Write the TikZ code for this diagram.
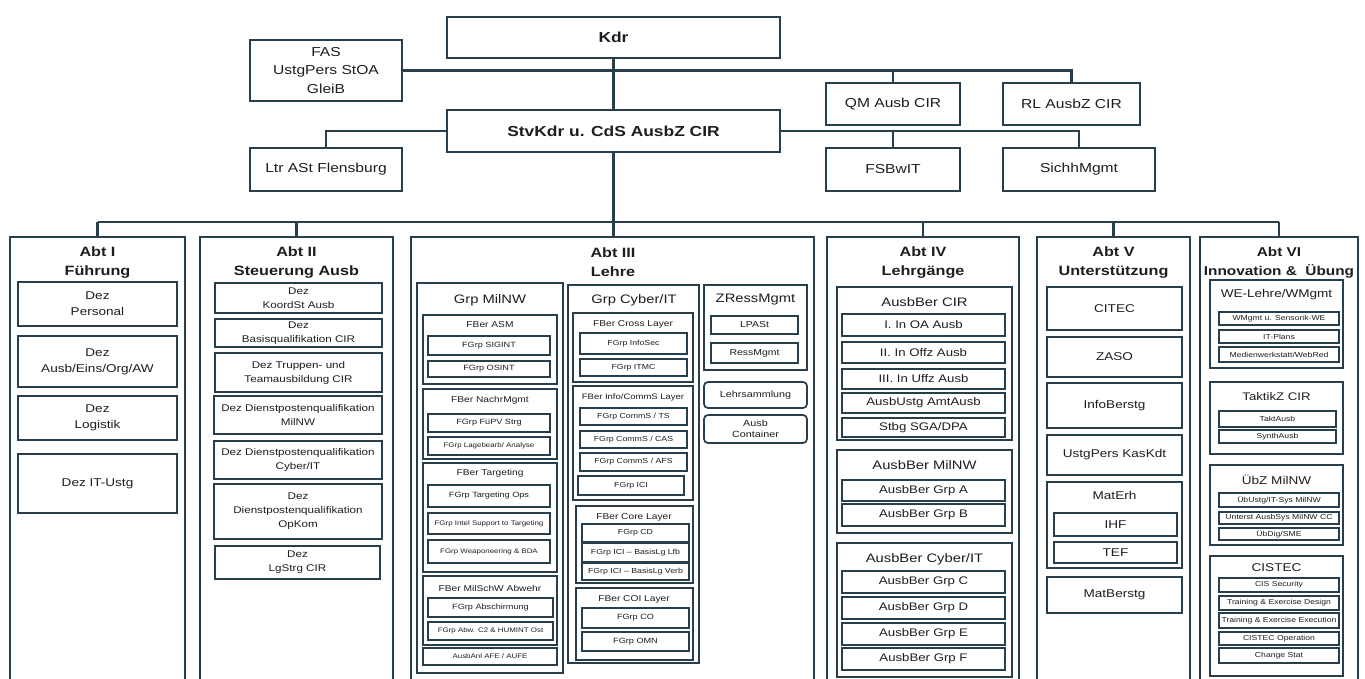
\documentclass[tikz,border=0pt]{standalone}
\usepackage{fontspec}
\setmainfont{Liberation Sans}[FakeStretch=1.2]
\definecolor{lc}{RGB}{40,62,76}
\definecolor{tc}{RGB}{30,30,30}
\newcommand{\fsz}[2]{\fontsize{#1}{#2}\selectfont}
\newcommand{\obox}[7][box]{\node[#1, minimum width={#5pt-#3pt}, minimum height={#6pt-#4pt}] (#2) at ({(#3+#5)/2},{(#4+#6)/2}) {#7};}
\tikzset{
  box/.style={draw=lc, line width=1.7pt, fill=white, inner sep=0.5pt, align=center, text=tc},
  cont/.style={box},
  rbox/.style={box, rounded corners=4pt, font=\fsz{9}{11}},
  topb/.style={box, font=\bfseries\fsz{14.5}{17}},
  topn/.style={box, font=\fsz{13}{18.5}},
  ttl/.style={align=center, text=tc, inner sep=0pt},
  abtt/.style={ttl, font=\bfseries\fsz{13.5}{19}},
  grpt/.style={ttl, font=\fsz{12.3}{14}},
  fbt/.style={ttl, font=\fsz{8.5}{10}},
  dA/.style={box, font=\fsz{11.3}{16}},
  dB/.style={box, font=\fsz{9.7}{14}},
  fg/.style={box, font=\fsz{7.6}{9}},
  fgs/.style={box, font=\fsz{6.6}{8}},
  fc/.style={box, font=\fsz{7.3}{9}},
  zr/.style={box, font=\fsz{8.7}{10}},
  d4/.style={box, font=\fsz{11}{13}},
  d5/.style={box, font=\fsz{11.3}{13}},
  d6/.style={box, font=\fsz{7.2}{8.5}},
  conn/.style={draw=lc, line width=2.4pt},
}
\begin{document}
\begin{tikzpicture}[x=1pt,y=-1pt]
\path[use as bounding box] (0,0) rectangle (1365,679);
\clip (0,0) rectangle (1365,679);
\fill[white] (0,0) rectangle (1365,679);

% top level
\obox[topb]{kdr}{447}{17}{780}{58}{Kdr}
\obox[topn]{fas}{250}{40}{402}{101}{FAS\\UstgPers StOA\\GleiB}
\obox[topn]{qm}{826}{83}{960}{125}{QM Ausb CIR}
\obox[topn]{rl}{1003}{83}{1140}{125}{RL AusbZ CIR}
\obox[topb]{stv}{447}{110}{780}{152}{StvKdr u. CdS AusbZ CIR}
\obox[topn]{ltr}{250}{148}{402}{191}{Ltr ASt Flensburg}
\obox[topn]{fsb}{826}{148}{960}{191}{FSBwIT}
\obox[topn]{sich}{1003}{148}{1155}{191}{SichhMgmt}

% Abteilungen
\obox[cont]{a1}{10}{237}{185}{684}{}
\obox[cont]{a2}{200}{237}{393}{684}{}
\obox[cont]{a3}{411}{237}{814}{684}{}
\obox[cont]{a4}{827}{237}{1019}{684}{}
\obox[cont]{a5}{1037}{237}{1190}{684}{}
\obox[cont]{a6}{1200}{237}{1358}{684}{}
\node[abtt] (t1) at (97.5,262.5) {Abt I\\Führung};
\node[abtt] (t2) at (296.5,262.5) {Abt II\\Steuerung Ausb};
\node[abtt] (t3) at (613,262.5) {Abt III\\Lehre};
\node[abtt] (t4) at (923,262.5) {Abt IV\\Lehrgänge};
\node[abtt] (t5) at (1113.5,262.5) {Abt V\\Unterstützung};
\node[abtt, font=\bfseries\fsz{12.8}{19}] (t6) at (1279,262.5) {Abt VI\\Innovation \&\ \ Übung};

% Abt I
\obox[dA]{d11}{18}{282}{177}{326}{Dez\\Personal}
\obox[dA]{d12}{18}{336}{177}{387}{Dez\\Ausb/Eins/Org/AW}
\obox[dA]{d13}{18}{396}{177}{440}{Dez\\Logistik}
\obox[dA]{d14}{18}{454}{177}{513}{Dez IT-Ustg}

% Abt II
\obox[dB]{d21}{215}{283}{382}{313}{Dez\\KoordSt Ausb}
\obox[dB]{d22}{215}{319}{382}{347}{Dez\\Basisqualifikation CIR}
\obox[dB]{d23}{215}{353}{382}{392}{Dez Truppen- und\\Teamausbildung CIR}
\obox[dB]{d24}{214}{396}{382}{434}{Dez Dienstpostenqualifikation\\MilNW}
\obox[dB]{d25}{214}{441}{382}{479}{Dez Dienstpostenqualifikation\\Cyber/IT}
\obox[dB]{d26}{214}{484}{382}{539}{Dez\\Dienstpostenqualifikation\\OpKom}
\obox[dB]{d27}{215}{546}{380}{579}{Dez\\LgStrg CIR}

% Abt III - Grp MilNW
\obox[cont]{gm}{417}{283}{563}{673}{}
\node[grpt] (gmt) at (490,300) {Grp MilNW};
\obox[cont]{fasm}{423}{315}{557}{384}{}
\node[fbt] (fasmt) at (490,325) {FBer ASM};
\obox[fg]{sig}{428}{336}{550}{355}{FGrp SIGINT}
\obox[fg]{osi}{428}{361}{550}{377}{FGrp OSINT}
\obox[cont]{fnm}{423}{389}{557}{459}{}
\node[fbt] (fnmt) at (490,400) {FBer NachrMgmt};
\obox[fg]{fuepv}{428}{414}{550}{432}{FGrp FüPV Strg}
\obox[fgs]{lage}{428}{437}{550}{455}{FGrp Lagebearb/ Analyse}
\obox[cont]{ftg}{423}{463}{557}{572}{}
\node[fbt] (ftgt) at (490,473) {FBer Targeting};
\obox[fg]{tgo}{428}{485}{550}{507}{FGrp Targeting Ops}
\obox[fgs]{tgi}{428}{513}{550}{534}{FGrp Intel Support to Targeting}
\obox[fgs]{tgw}{428}{540}{550}{563}{FGrp Weaponeering \& BDA}
\obox[cont]{fms}{423}{576}{557}{645}{}
\node[fbt] (fmst) at (490,588) {FBer MilSchW Abwehr};
\obox[fg]{absch}{428}{598}{553}{617}{FGrp Abschirmung}
\obox[fgs]{abw}{428}{622}{553}{640}{FGrp Abw. C2 \& HUMINT Ost}
\obox[fgs]{anl}{423}{648}{557}{665}{AusbAnl AFE / AUFE}

% Abt III - Grp Cyber/IT
\obox[cont]{gc}{568}{285}{699}{663}{}
\node[grpt] (gct) at (634,300) {Grp Cyber/IT};
\obox[cont]{fcl}{573}{313}{693}{382}{}
\node[fbt] (fclt) at (633,324) {FBer Cross Layer};
\obox[fc]{isec}{580}{333}{687}{354}{FGrp InfoSec}
\obox[fc]{itmc}{580}{359}{687}{376}{FGrp ITMC}
\obox[cont]{fic}{573}{386}{693}{500}{}
\node[fbt,font=\fsz{7.9}{9}] (fict) at (633,397) {FBer Info/CommS Layer};
\obox[fc]{cts}{580}{408}{687}{425}{FGrp CommS / TS}
\obox[fc]{ccas}{580}{431}{687}{448}{FGrp CommS / CAS}
\obox[fc]{cafs}{580}{453}{687}{471}{FGrp CommS / AFS}
\obox[fc]{ici}{578}{476}{684}{495}{FGrp ICI}
\obox[cont]{fco}{576}{506}{693}{583}{}
\node[fbt] (fcot) at (634,517) {FBer Core Layer};
\obox[fc]{cd}{582}{524}{689}{542}{FGrp CD}
\obox[fc]{icl}{582}{543}{689}{562}{FGrp ICI -- BasisLg Lfb}
\obox[fc]{icv}{582}{563}{689}{580}{FGrp ICI -- BasisLg Verb}
\obox[cont]{fcoi}{576}{588}{693}{660}{}
\node[fbt] (fcoit) at (634,599) {FBer COI Layer};
\obox[fg]{co}{582}{608}{689}{628}{FGrp CO}
\obox[fg]{omn}{582}{632}{689}{651}{FGrp OMN}

% Abt III - ZRessMgmt
\obox[cont]{zrm}{704}{285}{807}{370}{}
\node[grpt] (zrmt) at (755.5,300) {ZRessMgmt};
\obox[zr]{lpa}{711}{316}{798}{334}{LPASt}
\obox[zr]{ress}{711}{343}{798}{363}{RessMgmt}
\obox[rbox]{lsam}{704}{382}{807}{408}{Lehrsammlung}
\obox[rbox]{acon}{704}{415}{807}{443}{Ausb\\Container}

% Abt IV
\obox[cont]{acir}{837}{287}{1012}{440}{}
\node[grpt] (acirt) at (924.5,302) {AusbBer CIR};
\obox[d4]{i1}{842}{314}{1005}{336}{I. In OA Ausb}
\obox[d4]{i2}{842}{342}{1005}{363}{II. In Offz Ausb}
\obox[d4]{i3}{842}{369}{1005}{389}{III. In Uffz Ausb}
\obox[d4]{i4}{842}{393}{1005}{413}{AusbUstg AmtAusb}
\obox[d4]{i5}{842}{418}{1005}{437}{Stbg SGA/DPA}
\obox[cont]{amil}{837}{450}{1012}{533}{}
\node[grpt] (amilt) at (924.5,465) {AusbBer MilNW};
\obox[d4]{ga}{842}{480}{1005}{501}{AusbBer Grp A}
\obox[d4]{gb}{842}{504}{1005}{526}{AusbBer Grp B}
\obox[cont]{acy}{837}{543}{1012}{677}{}
\node[grpt] (acyt) at (924.5,559) {AusbBer Cyber/IT};
\obox[d4]{gcc}{842}{571}{1005}{593}{AusbBer Grp C}
\obox[d4]{gd}{842}{597}{1005}{619}{AusbBer Grp D}
\obox[d4]{ge}{842}{623}{1005}{645}{AusbBer Grp E}
\obox[d4]{gf}{842}{648}{1005}{670}{AusbBer Grp F}

% Abt V
\obox[d5]{citec}{1047}{287}{1182}{330}{CITEC}
\obox[d5]{zaso}{1047}{337}{1182}{377}{ZASO}
\obox[d5]{info}{1047}{383}{1182}{428}{InfoBerstg}
\obox[d5]{ustg}{1047}{435}{1182}{475}{UstgPers KasKdt}
\obox[cont]{materh}{1047}{482}{1182}{568}{}
\node[ttl,font=\fsz{11.3}{13}] (materht) at (1114.5,495) {MatErh};
\obox[d5]{ihf}{1054}{513}{1177}{536}{IHF}
\obox[d5]{tef}{1054}{542}{1177}{563}{TEF}
\obox[d5]{matb}{1047}{577}{1182}{613}{MatBerstg}

% Abt VI
\obox[cont]{we}{1210}{280}{1343}{368}{}
\node[ttl,font=\fsz{11.3}{13}] (wet) at (1276.5,295) {WE-Lehre/WMgmt};
\obox[d6]{we1}{1219}{312}{1339}{325}{WMgmt u. Sensorik-WE}
\obox[d6]{we2}{1219}{330}{1339}{343}{IT-Plans}
\obox[d6]{we3}{1219}{347}{1339}{362}{Medienwerkstatt/WebRed}
\obox[cont]{tz}{1210}{382}{1343}{454}{}
\node[ttl,font=\fsz{11}{13}] (tzt) at (1276.5,397) {TaktikZ CIR};
\obox[d6]{tz1}{1219}{411}{1336}{427}{TaktAusb}
\obox[d6]{tz2}{1219}{430}{1336}{443}{SynthAusb}
\obox[cont]{ub}{1210}{465}{1343}{545}{}
\node[ttl,font=\fsz{11.3}{13}] (ubt) at (1276.5,480) {ÜbZ MilNW};
\obox[d6]{ub1}{1219}{493}{1339}{507}{ÜbUstg/IT-Sys MilNW}
\obox[d6]{ub2}{1219}{512}{1339}{524}{Unterst AusbSys MilNW CC}
\obox[d6]{ub3}{1219}{528}{1339}{540}{ÜbDig/SME}
\obox[cont]{ci}{1210}{556}{1343}{676}{}
\node[ttl,font=\fsz{11.3}{13}] (cit) at (1276.5,568) {CISTEC};
\obox[d6]{ci1}{1219}{578}{1339}{592}{CIS Security}
\obox[d6]{ci2}{1219}{596}{1339}{610}{Training \& Exercise Design}
\obox[d6]{ci3}{1219}{613}{1339}{628}{Training \& Exercise Execution}
\obox[d6]{ci4}{1219}{632}{1339}{645}{CISTEC Operation}
\obox[d6]{ci5}{1219}{648}{1339}{663}{Change Stat}

% connectors
\draw[conn] (fas.east) -- (fas.east -| rl.north) -- (rl.north);
\draw[conn] (fas.east -| qm.north) -- (qm.north);
\draw[conn] (kdr.south) -- (stv.north);
\draw[conn] (stv.east) -- (stv.east -| sich.north) -- (sich.north);
\draw[conn] (stv.east -| fsb.north) -- (fsb.north);
\draw[conn] (stv.west) -- (stv.west -| ltr.north) -- (ltr.north);
\coordinate (bus) at (615,222);
\draw[conn] (stv.south) -- (stv.south |- a3.north);
\draw[conn] (bus -| a1.north) -- (bus -| a6.north);
\foreach \a in {a1,a2,a4,a5,a6} \draw[conn] (bus -| \a.north) -- (\a.north);
\end{tikzpicture}
\end{document}
